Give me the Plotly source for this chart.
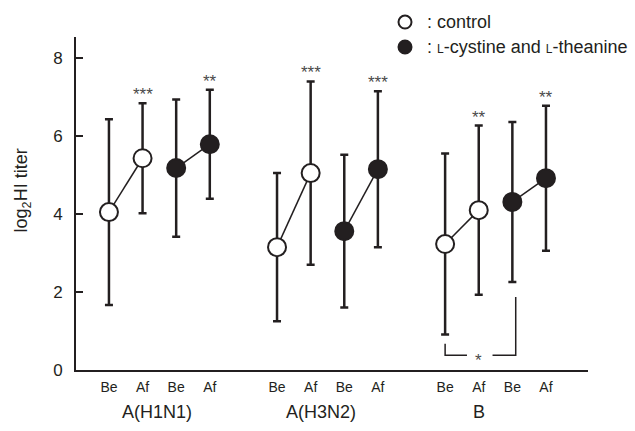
import plotly.graph_objects as go

# ---- data ----
groups = ["A(H1N1)", "A(H3N2)", "B"]
time_labels = ["Be", "Af"]
control_mean = [[4.05, 5.43], [3.15, 5.05], [3.23, 4.10]]
control_sd = [[2.38, 1.41], [1.90, 2.35], [2.32, 2.17]]
treat_mean = [[5.18, 5.79], [3.56, 5.15], [4.31, 4.92]]
treat_sd = [[1.76, 1.40], [1.96, 2.00], [2.05, 1.86]]
control_sig = [["", "***"], ["", "***"], ["", "**"]]
treat_sig = [["", "**"], ["", "***"], ["", "**"]]
bracket_y = [0.67, 0.38, 1.87]   # left top, base, right top (B: Be control vs Be treatment)
bracket_label = "*"
y_ticks = [0, 2, 4, 6, 8]
legend_labels = [": control",
                 ": <span style='font-size:12px'>L</span>-cystine and <span style='font-size:12px'>L</span>-theanine"]

INK = "#231f20"
STAR = "#4a4a4a"
FONT = "Arial, Liberation Sans, Helvetica, sans-serif"

fig = go.Figure()

def pos(g, arm, t):
    return g * 5 + arm * 2 + t

annotations = []
for g in range(len(groups)):
    for arm, (means, sds, sig, fill) in enumerate([
            (control_mean, control_sd, control_sig, "white"),
            (treat_mean, treat_sd, treat_sig, INK)]):
        xs = [pos(g, arm, t) for t in range(2)]
        fig.add_trace(go.Scatter(
            x=xs, y=means[g], mode="lines+markers",
            line=dict(color=INK, width=1.5),
            marker=dict(size=18, color=fill, line=dict(color=INK, width=2)),
            error_y=dict(type="data", array=sds[g], visible=True,
                         color=INK, thickness=2.5, width=4),
            showlegend=False, hoverinfo="skip"))
        for t in range(2):
            if sig[g][t]:
                annotations.append(dict(
                    x=xs[t], y=means[g][t] + sds[g][t], xref="x", yref="y",
                    text=sig[g][t], showarrow=False, yanchor="bottom", yshift=-3,
                    font=dict(size=17, color=STAR, family=FONT)))

# significance bracket (group B, Be control vs Be treatment)
gB = 2
xl = pos(gB, 0, 0)
xr = pos(gB, 1, 0) + 0.1
xm = (xl + xr) / 2
fig.add_trace(go.Scatter(x=[xl, xl, xm - 0.4], y=[bracket_y[0], bracket_y[1], bracket_y[1]],
                         mode="lines", line=dict(color=INK, width=1.5),
                         showlegend=False, hoverinfo="skip"))
fig.add_trace(go.Scatter(x=[xm + 0.36, xr, xr], y=[bracket_y[1], bracket_y[1], bracket_y[2]],
                         mode="lines", line=dict(color=INK, width=1.5),
                         showlegend=False, hoverinfo="skip"))
annotations.append(dict(x=xm - 0.05, y=bracket_y[1], xref="x", yref="y", text=bracket_label,
                        showarrow=False, yanchor="middle", yshift=-5,
                        font=dict(size=17, color=STAR, family=FONT)))

# group labels
group_label_x = [1.42, 6.3, 11.0]
for g, name in enumerate(groups):
    annotations.append(dict(x=group_label_x[g], y=-0.126, xref="x", yref="paper",
                            text=name, showarrow=False, yanchor="middle",
                            font=dict(size=18, color=INK, family=FONT)))

# y-axis title
annotations.append(dict(x=-0.105, y=0.54, xref="paper", yref="paper",
                        text="log<sub>2</sub>HI titer", textangle=-90, showarrow=False,
                        xanchor="center", yanchor="middle",
                        font=dict(size=18, color=INK, family=FONT)))

# legend (manual)
shapes = []
leg_y = [1.045, 0.970]
leg_fill = ["white", INK]
for i, lab in enumerate(legend_labels):
    shapes.append(dict(type="circle", xref="paper", yref="paper",
                       xsizemode="pixel", ysizemode="pixel",
                       xanchor=0.6426, yanchor=leg_y[i],
                       x0=-6.5, x1=6.5, y0=-6.5, y1=6.5,
                       fillcolor=leg_fill[i], line=dict(color=INK, width=2)))
    annotations.append(dict(x=0.681, y=leg_y[i], xref="paper", yref="paper",
                            text=lab, showarrow=False, xanchor="left", yanchor="middle",
                            font=dict(size=18, color=INK, family=FONT)))

tickvals, ticktext = [], []
for g in range(len(groups)):
    for arm in range(2):
        for t in range(2):
            tickvals.append(pos(g, arm, t))
            ticktext.append(time_labels[t])

fig.update_layout(
    width=635, height=431,
    margin=dict(l=76, r=47, t=37, b=61),
    paper_bgcolor="white", plot_bgcolor="white",
    font=dict(family=FONT, color=INK),
    annotations=annotations, shapes=shapes,
    showlegend=False,
    xaxis=dict(range=[-0.98, 14.25], showgrid=False, zeroline=False,
               showline=True, linecolor=INK, linewidth=2,
               tickvals=tickvals, ticktext=ticktext, ticks="",
               tickfont=dict(size=14, color=INK), ticklabelstandoff=3),
    yaxis=dict(range=[0, 8.54], showgrid=False, zeroline=False,
               showline=True, linecolor=INK, linewidth=2,
               tickvals=y_ticks, ticks="inside", ticklen=7, tickwidth=2, tickcolor=INK,
               tickfont=dict(size=17, color=INK), ticklabelstandoff=8),
)

fig.write_html("out.html", config={"displayModeBar": False},
               post_script="document.body.style.margin='0';")
